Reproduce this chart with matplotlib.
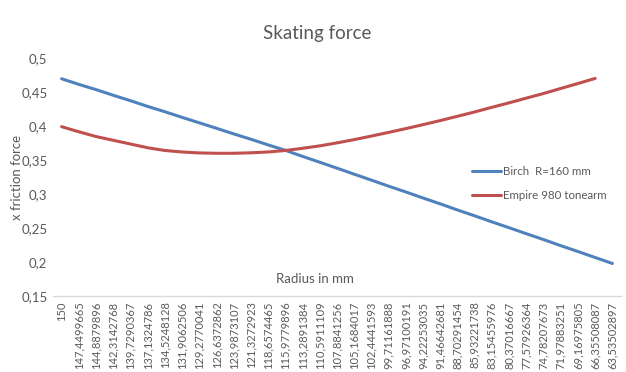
import matplotlib
matplotlib.use("Agg")
import matplotlib.pyplot as plt
import numpy as np

radius_labels = [
    "150", "147,4499665", "144,8879896", "142,3142768", "139,7290367",
    "137,1324786", "134,5248128", "131,9062506", "129,2770041", "126,6372862",
    "123,9873107", "121,3272923", "118,6574465", "115,9779896", "113,2891384",
    "110,5911109", "107,8841256", "105,1684017", "102,4441593", "99,71161888",
    "96,97100191", "94,22253035", "91,46642681", "88,70291454", "85,93221738",
    "83,15455976", "80,37016667", "77,57926364", "74,78207673", "71,97883251",
    "69,16975805", "66,35508087", "63,53502897",
]

birch = [
    0.4695, 0.4612, 0.4535, 0.4452, 0.4372, 0.4288, 0.4210, 0.4127, 0.4047,
    0.3966, 0.3884, 0.3805, 0.3722, 0.3642, 0.3553, 0.3467, 0.3380, 0.3291,
    0.3204, 0.3115, 0.3030, 0.2941, 0.2855, 0.2765, 0.2679, 0.2590, 0.2504,
    0.2416, 0.2330, 0.2240, 0.2154, 0.2066, 0.1978,
]

empire = [
    0.3990, 0.3915, 0.3845, 0.3790, 0.3735, 0.3680, 0.3640, 0.3618, 0.3604,
    0.3599, 0.3599, 0.3606, 0.3618, 0.3640, 0.3672, 0.3708, 0.3752, 0.3800,
    0.3852, 0.3906, 0.3962, 0.4020, 0.4080, 0.4143, 0.4207, 0.4275, 0.4341,
    0.4410, 0.4478, 0.4552, 0.4625, 0.4700, np.nan,
]

series_names = ["Birch  R=160 mm", "Empire 980 tonearm"]
y_ticks = [0.15, 0.2, 0.25, 0.3, 0.35, 0.4, 0.45, 0.5]

plt.rcParams['font.family'] = ['Lato', 'DejaVu Sans']
text_color = "#595959"

fig = plt.figure(figsize=(6.26, 3.72), dpi=100)
ax = fig.add_axes([53/626, 1 - 296/372, (621-53)/626, (296-58)/372])

x = np.arange(len(radius_labels))
ax.plot(x, birch, color="#4F81BD", lw=2.2, label=series_names[0], solid_capstyle='round')
ax.plot(x, empire, color="#C0504D", lw=2.2, label=series_names[1], solid_capstyle='round')

ax.set_xlim(-0.5, len(radius_labels) - 0.5)
ax.set_ylim(0.15, 0.5)
ax.set_yticks(y_ticks)
ax.set_yticklabels([("%g" % v).replace(".", ",") for v in y_ticks],
                   fontsize=9.5, color=text_color)
ax.set_xticks(x)
ax.set_xticklabels(radius_labels, rotation=90, fontsize=8.0, color=text_color)
ax.tick_params(axis='x', length=0, pad=4)
ax.tick_params(axis='y', length=0, pad=4)

for s in ["top", "right", "left"]:
    ax.spines[s].set_visible(False)
ax.spines["bottom"].set_color("#D9D9D9")
ax.spines["bottom"].set_linewidth(1.0)

fig.text(317/626, 1 - 33/372, "Skating force", ha="center", va="center",
         fontsize=13.5, color=text_color)
fig.text(17/626, 1 - 177/372, "x friction force", ha="center", va="center",
         rotation=90, fontsize=9.5, color=text_color)
fig.text(315/626, 1 - 279/372, "Radius in mm", ha="center", va="center",
         fontsize=9.5, color=text_color)

leg = ax.legend(loc="upper left", bbox_to_anchor=(462/626, 1 - 156/372),
                bbox_transform=fig.transFigure, frameon=False, fontsize=8.3,
                handlelength=2.5, handletextpad=0.15, labelspacing=1.1)
for t in leg.get_texts():
    t.set_color(text_color)

fig.savefig("out.png", dpi=100, facecolor="white")
